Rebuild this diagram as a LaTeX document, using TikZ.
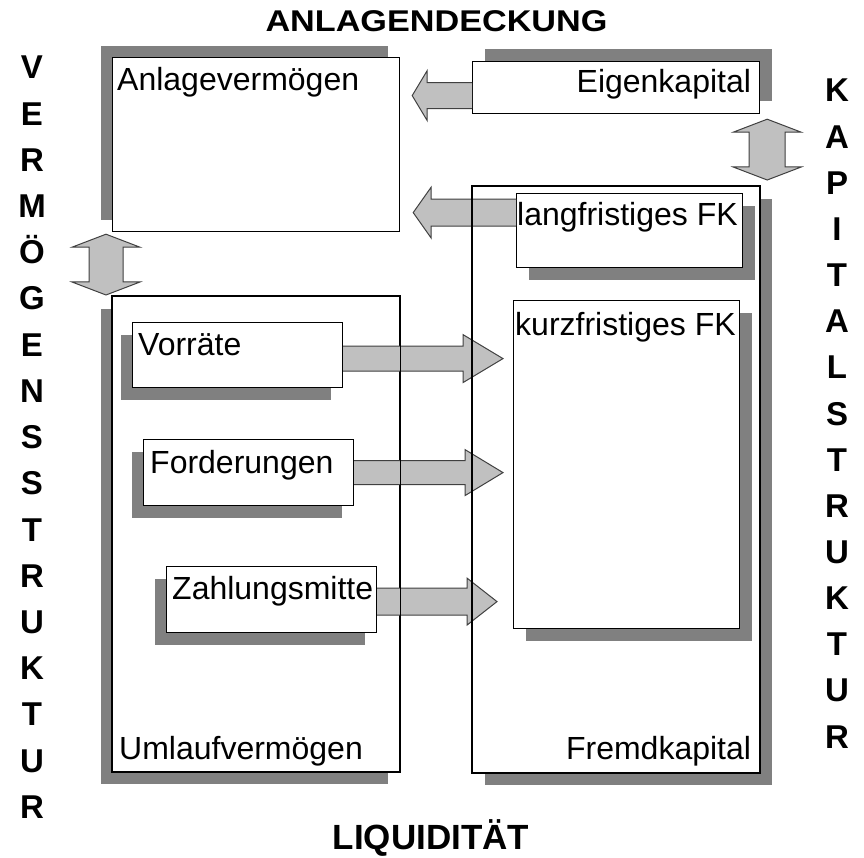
\documentclass[tikz,border=0pt]{standalone}
\usepackage{fontspec}
\setmainfont{Liberation Sans}
\usepackage{graphicx}
\usepackage{tikz}
\usetikzlibrary{calc}
\usetikzlibrary{shadows}
\usetikzlibrary{positioning}

\definecolor{shadowgray}{HTML}{808080}
\definecolor{arrowgray}{HTML}{C0C0C0}
\definecolor{arrowline}{HTML}{404040}

% block arrow: start, tip, half shaft, half head, head length
\newcommand{\blockarrow}[5]{%
  \coordinate (hb) at ($(#2)!#5!(#1)$);
  \fill[arrowgray] ($(#1)!#3!90:(#2)$) -- ($(hb)!#3!90:(#2)$) -- ($(hb)!#4!90:(#2)$) -- (#2)
    -- ($(hb)!#4!-90:(#2)$) -- ($(hb)!#3!-90:(#2)$) -- ($(#1)!#3!-90:(#2)$) -- cycle;
  \draw[arrowedge] ($(#1)!#3!90:(#2)$) -- ($(hb)!#3!90:(#2)$) -- ($(hb)!#4!90:(#2)$) -- (#2)
    -- ($(hb)!#4!-90:(#2)$) -- ($(hb)!#3!-90:(#2)$) -- ($(#1)!#3!-90:(#2)$);
}
% double block arrow: tip, tip, half shaft, half head, head length
\newcommand{\dblarrow}[5]{%
  \coordinate (hbA) at ($(#1)!#5!(#2)$);
  \coordinate (hbB) at ($(#2)!#5!(#1)$);
  \filldraw[arrowfill] (#1) -- ($(hbA)!#4!90:(#2)$) -- ($(hbA)!#3!90:(#2)$) -- ($(hbB)!#3!90:(#2)$)
    -- ($(hbB)!#4!90:(#2)$) -- (#2) -- ($(hbB)!#4!-90:(#2)$) -- ($(hbB)!#3!-90:(#2)$)
    -- ($(hbA)!#3!-90:(#2)$) -- ($(hbA)!#4!-90:(#2)$) -- cycle;
}

\begin{document}
\begin{tikzpicture}[x=1pt, y=-1pt,
    box/.style={draw=black, line width=1.2pt, fill=white, inner sep=0pt, anchor=north west},
    shadowUL/.style={drop shadow={shadow xshift=-12pt, shadow yshift=12pt, fill=shadowgray, opacity=1}},
    shadowUR/.style={drop shadow={shadow xshift=12pt, shadow yshift=13pt, fill=shadowgray, opacity=1}},
    shadowDR/.style={drop shadow={shadow xshift=12pt, shadow yshift=-12pt, fill=shadowgray, opacity=1}},
    shadowDL/.style={drop shadow={shadow xshift=-12pt, shadow yshift=-12pt, fill=shadowgray, opacity=1}},
    lbl/.style={font=\fontsize{32}{38}\selectfont, inner sep=0pt},
    head/.style={font=\fontsize{35}{40}\selectfont\bfseries, inner sep=0pt, anchor=base},
    letter/.style={font=\fontsize{33}{38}\selectfont\bfseries, inner sep=0pt, anchor=base},
    arrowfill/.style={fill=arrowgray, draw=arrowline, line width=1pt},
    arrowedge/.style={draw=arrowline, line width=1pt}
]
    \useasboundingbox (0,0) rectangle (864,858);

    % Headings
    \node[head] (anlagedeckung) at (436.5, 32) {\scalebox{1.14}[1]{\fontsize{30}{36}\selectfont ANLAGENDECKUNG}};
    \node[head] (liquiditaet) at (431, 849) {LIQUIDITÄT};
    % - [Vertical words]
    \foreach \ch [count=\i from 0] in {V,E,R,M,Ö,G,E,N,S,S,T,R,U,K,T,U,R}
        \node[letter] (vs\i) at (32, 79+46.2*\i) {\ch};
    \foreach \ch [count=\i from 0] in {K,A,P,I,T,A,L,S,T,R,U,K,T,U,R}
        \node[letter] (ks\i) at (837, 102+46.15*\i) {\ch};

    % Vermoegen (left side)
    \node[box, shadowUL, minimum width=287pt, minimum height=174pt] (anlage) at (112, 57) {};
    \node[box, shadowDL, minimum width=287pt, minimum height=475pt] (umlauf) at (112, 296) {};
    \node[box, shadowDL, minimum width=210pt, minimum height=65pt] (vorr) at (132, 322) {};
    \node[box, shadowDL, minimum width=210pt, minimum height=66pt] (ford) at (143, 439) {};
    \node[box, shadowDL, minimum width=210pt, minimum height=66pt] (zahl) at (166, 566) {};

    % Kapital (right side)
    \node[box, shadowUR, minimum width=287pt, minimum height=52pt] (eigen) at (472, 61) {};
    \node[box, shadowDR, minimum width=287pt, minimum height=586pt] (fremd) at (472, 186) {};
    \node[box, shadowDR, minimum width=226pt, minimum height=74pt] (langfr) at (516, 193) {};
    \node[box, shadowDR, minimum width=226pt, minimum height=328pt] (kurz) at (513, 300) {};

    % - [Arrows to Anlagevermoegen]
    \coordinate (ekS) at ($(eigen.west)+(0,8)$);
    \coordinate (ekT) at ($(anlage.east |- ekS)+(12,0)$);
    \blockarrow{ekS}{ekT}{13pt}{25pt}{15pt}
    \coordinate (lfS) at ($(langfr.west)+(0,-18)$);
    \coordinate (lfT) at ($(anlage.east |- lfS)+(13,0)$);
    \blockarrow{lfS}{lfT}{13.5pt}{25.5pt}{18pt}

    % - [Arrows to kurzfristiges FK]
    \coordinate (vS) at ($(vorr.east)+(0,3.5)$);
    \coordinate (vT) at ($(kurz.west |- vS)+(-10,0)$);
    \blockarrow{vS}{vT}{12.5pt}{24pt}{40pt}
    \coordinate (fS) at (ford.east);
    \coordinate (fT) at ($(kurz.west |- fS)+(-10,0)$);
    \blockarrow{fS}{fT}{12pt}{23pt}{38pt}
    \coordinate (zS) at ($(zahl.east)+(0,2)$);
    \coordinate (zT) at ($(kurz.west |- zS)+(-16,0)$);
    \blockarrow{zS}{zT}{13.5pt}{23.5pt}{30pt}

    % -- borders of the big boxes lie over the arrows
    \draw[line width=1.2pt] (umlauf.north west) rectangle (umlauf.south east);
    \draw[line width=1.2pt] (fremd.north west) rectangle (fremd.south east);

    % - [Double arrows]
    \coordinate (avTop) at ($(anlage.south west)+(-6,2)$);
    \coordinate (avBot) at ($(umlauf.north west)+(-6,-1)$);
    \dblarrow{avTop}{avBot}{17pt}{34pt}{13pt}
    \coordinate (kpTop) at ($(eigen.south east)+(7,5)$);
    \coordinate (kpBot) at ($(fremd.north east)+(7,-6)$);
    \dblarrow{kpTop}{kpBot}{18pt}{34pt}{13pt}

    % Labels
    \node[lbl, anchor=base west] (anlageT) at ($(anlage.north west)+(5,34)$) {Anlagevermögen};
    \node[lbl, anchor=base west] (umlaufT) at ($(umlauf.south west)+(7,-13)$) {Umlaufvermögen};
    \node[lbl, anchor=base west] (vorrT) at ($(vorr.north west)+(6,33)$) {Vorräte};
    \node[lbl, anchor=base west] (fordT) at ($(ford.north west)+(7,34)$) {Forderungen};
    \node[lbl, anchor=base west] (zahlT) at ($(zahl.north west)+(6,33)$) {Zahlungsmitte};
    \node[lbl, anchor=base east] (eigenT) at ($(eigen.north east)+(-9,32)$) {Eigenkapital};
    \node[lbl, anchor=base east] (fremdT) at ($(fremd.south east)+(-9,-14)$) {Fremdkapital};
    \node[lbl, anchor=base west] (langfrT) at ($(langfr.north west)+(1,33)$) {langfristiges FK};
    \node[lbl, anchor=base west] (kurzT) at ($(kurz.north west)+(2,35)$) {kurzfristiges FK};
\end{tikzpicture}
\end{document}
